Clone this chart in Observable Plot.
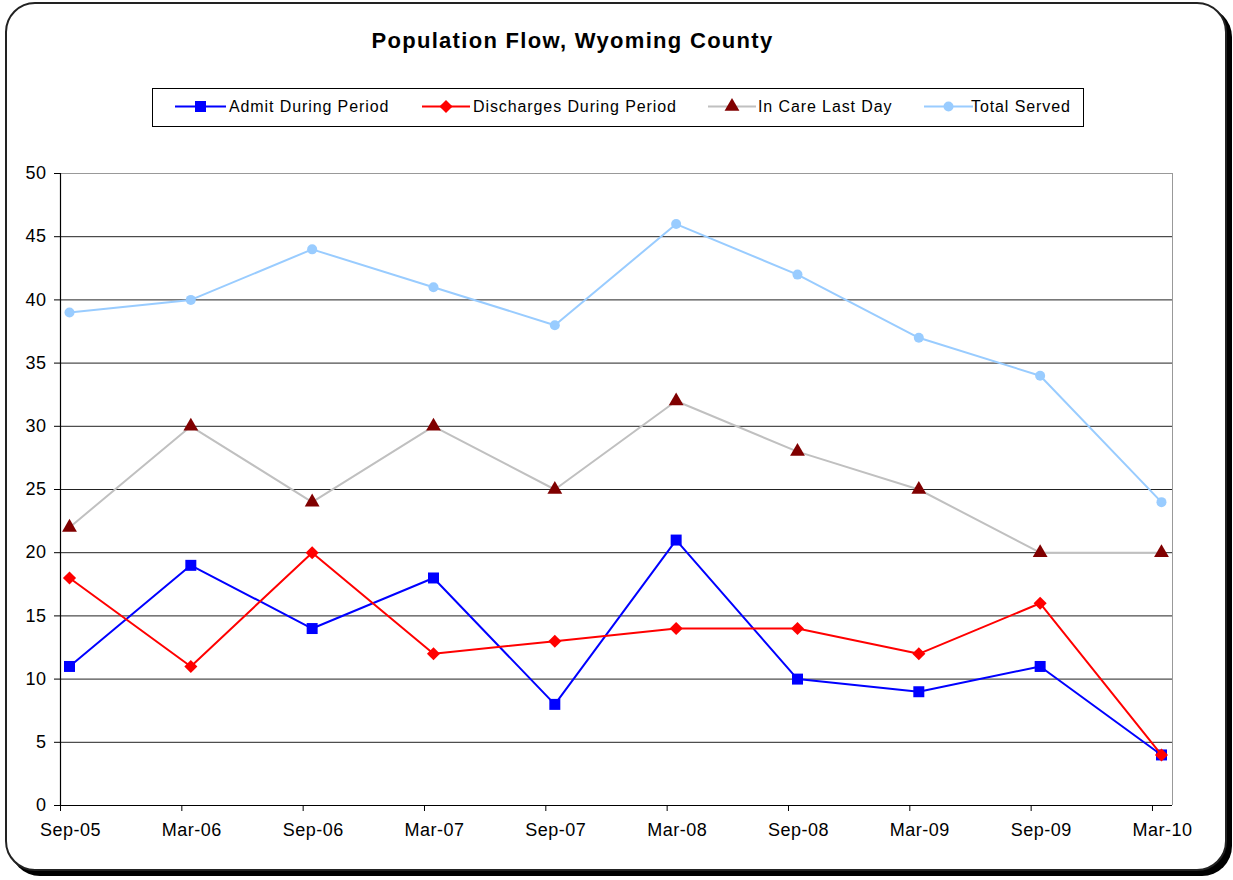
<!DOCTYPE html>
<html>
<head>
<meta charset="utf-8">
<script src="https://cdn.jsdelivr.net/npm/d3@7"></script>
<script src="https://cdn.jsdelivr.net/npm/@observablehq/plot@0.6"></script>
<style>
  html, body { margin: 0; padding: 0; background: #fff; }
  #wrap { position: relative; width: 1233px; height: 880px; font-family: "Liberation Sans", Arial, sans-serif; }
  #frame { position: absolute; left: 5px; top: 2px; width: 1222px; height: 869px; box-sizing: border-box;
           border: 2px solid #222; border-radius: 30px; box-shadow: 5px 5px 0 #000; background: #fff; }
  #chart { position: absolute; left: 0; top: 0; }
  #title { position: absolute; left: 0; width: 1145px; top: 28px; text-align: center; font-size: 22px;
           font-weight: bold; letter-spacing: 1.3px; color: #000; }
  #legend { position: absolute; left: 152px; top: 88px; width: 932px; height: 39px; box-sizing: border-box;
            border: 1px solid #000; background: #fff; }
  #legend svg text { letter-spacing: 0.9px; }
</style>
</head>
<body>
<div id="wrap">
  <div id="frame"></div>
  <div id="chart"></div>
  <div id="title">Population Flow, Wyoming County</div>
  <div id="legend"></div>
</div>
<script>
// ---- data ----
const periods = ["Sep-05","Mar-06","Sep-06","Mar-07","Sep-07","Mar-08","Sep-08","Mar-09","Sep-09","Mar-10"];
const admitDuringPeriod = [11, 19, 14, 18, 8, 21, 10, 9, 11, 4];
const dischargesDuringPeriod = [18, 11, 20, 12, 13, 14, 14, 12, 16, 4];
const inCareLastDay = [22, 30, 24, 30, 25, 32, 28, 25, 20, 20];
const totalServed = [39, 40, 44, 41, 38, 46, 42, 37, 34, 24];
const yTicks = [0, 5, 10, 15, 20, 25, 30, 35, 40, 45, 50];

const seriesDefs = [
  {name: "Admit During Period", values: admitDuringPeriod, line: "#0000FF", fill: "#0000FF", symbol: "square", r: 6.2},
  {name: "Discharges During Period", values: dischargesDuringPeriod, line: "#FF0000", fill: "#FF0000", symbol: "diamond2", r: 5.9},
  {name: "In Care Last Day", values: inCareLastDay, line: "#C0C0C0", fill: "#800000", symbol: "triangle", r: 5.5},
  {name: "Total Served", values: totalServed, line: "#99CCFF", fill: "#99CCFF", symbol: "circle", r: 5}
];

const idx = d3.range(periods.length);
const xMax = 9.165;
const font = '"Liberation Sans", Arial, sans-serif';
const ptDx = 9;

const seriesMarks = [];
for (const s of seriesDefs) {
  const rows = s.values.map((v, i) => ({i, v}));
  seriesMarks.push(Plot.line(rows, {x: "i", y: "v", stroke: s.line, strokeWidth: 2, dx: ptDx}));
  seriesMarks.push(Plot.dot(rows, {x: "i", y: "v", symbol: () => s.symbol, fill: s.fill, stroke: "none", r: s.r, dx: ptDx}));
}

const chart = Plot.plot({
  width: 1233,
  height: 880,
  marginLeft: 60,
  marginRight: 61,
  marginTop: 173,
  marginBottom: 75,
  x: {type: "linear", domain: [0, xMax], label: null},
  y: {domain: [0, 50], label: null},
  symbol: {type: "identity"},
  style: {fontFamily: font, fontSize: "17px", background: "transparent", color: "#000", overflow: "visible"},
  marks: [
    Plot.ruleY(yTicks.filter(d => d > 0 && d < 50), {stroke: "#222", strokeWidth: 1}),
    Plot.ruleY([50], {stroke: "#999", strokeWidth: 1}),
    Plot.ruleX([xMax], {stroke: "#999", strokeWidth: 1}),
    Plot.axisY({ticks: yTicks, tickSize: 6, tickPadding: 8, fontSize: 18, stroke: "#000", label: null, tickFormat: d => String(d)}),
    Plot.axisX({ticks: idx, tickSize: 6, stroke: "#000", label: null, tickFormat: () => ""}),
    Plot.text(idx, {x: d => d, frameAnchor: "bottom", dy: 30, dx: 10, text: i => periods[i], fontSize: 18, fill: "#000"}),
    Plot.ruleX([0], {stroke: "#000", strokeWidth: 1.2}),
    Plot.ruleY([0], {stroke: "#000", strokeWidth: 1.2}),
    ...seriesMarks
  ]
});
chart.querySelectorAll("text").forEach(t => t.style.letterSpacing = "0.5px");
document.getElementById("chart").appendChild(chart);

// ---- legend ----
const legendPos = [
  {lineX1: 22, lineX2: 73, textX: 76},
  {lineX1: 269, lineX2: 317, textX: 320},
  {lineX1: 555, lineX2: 603, textX: 605},
  {lineX1: 771, lineX2: 820, textX: 818}
];
const ns = "http://www.w3.org/2000/svg";
const lsvg = document.createElementNS(ns, "svg");
lsvg.setAttribute("width", 930);
lsvg.setAttribute("height", 37);
lsvg.style.display = "block";
seriesDefs.forEach((s, k) => {
  const p = legendPos[k];
  const cy = 17.5;
  const ln = document.createElementNS(ns, "line");
  ln.setAttribute("x1", p.lineX1); ln.setAttribute("x2", p.lineX2);
  ln.setAttribute("y1", cy); ln.setAttribute("y2", cy);
  ln.setAttribute("stroke", s.line); ln.setAttribute("stroke-width", 2);
  lsvg.appendChild(ln);
  const sym = {square: d3.symbolSquare, diamond2: d3.symbolDiamond2, triangle: d3.symbolTriangle, circle: d3.symbolCircle}[s.symbol];
  const path = document.createElementNS(ns, "path");
  path.setAttribute("d", d3.symbol(sym, Math.PI * s.r * s.r)());
  path.setAttribute("transform", `translate(${(p.lineX1 + p.lineX2) / 2},${cy})`);
  path.setAttribute("fill", s.fill);
  lsvg.appendChild(path);
  const t = document.createElementNS(ns, "text");
  t.setAttribute("x", p.textX); t.setAttribute("y", cy);
  t.setAttribute("dy", "0.35em");
  t.setAttribute("font-size", 16);
  t.setAttribute("font-family", font);
  t.textContent = s.name;
  lsvg.appendChild(t);
});
document.getElementById("legend").appendChild(lsvg);
</script>
</body>
</html>
